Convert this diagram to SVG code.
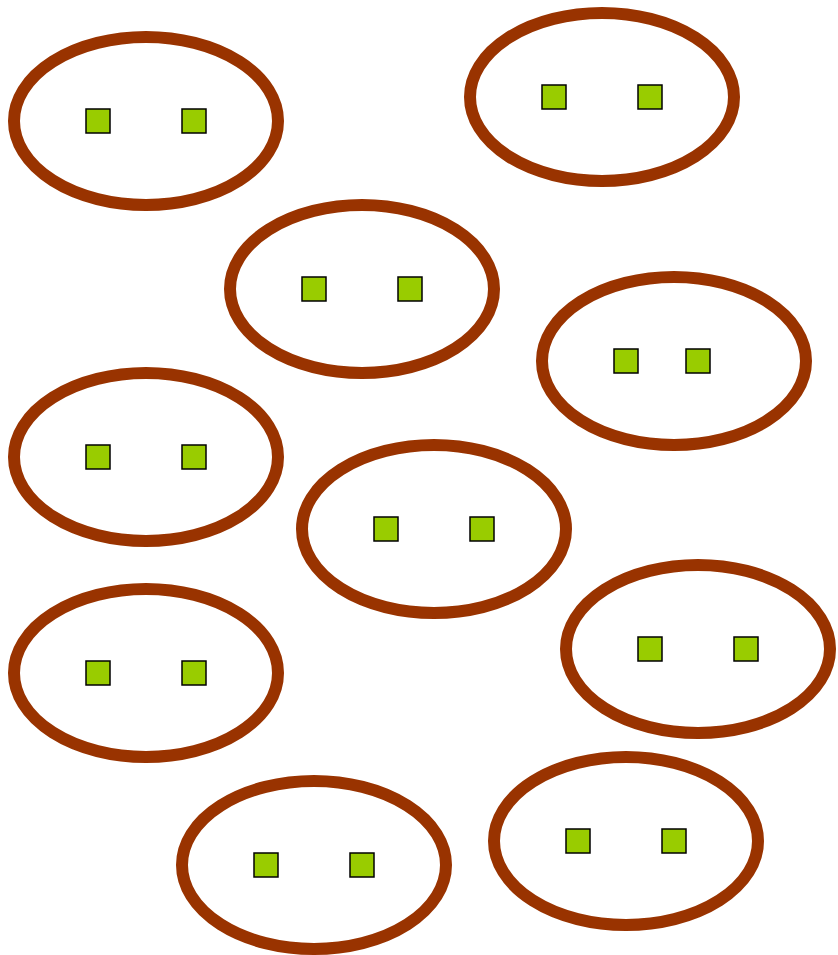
<svg xmlns="http://www.w3.org/2000/svg" width="838" height="955" viewBox="0 0 838 955">
<defs>
<style>
.e{fill:#ffffff;stroke:#993300;stroke-width:12}
.s{fill:#99cc00;stroke:#000000;stroke-width:1.5}
</style>
</defs>
<rect width="838" height="955" fill="#ffffff"/>
<g id="n1"><ellipse class="e" cx="146" cy="121" rx="132" ry="84"/><rect class="s" x="86" y="109" width="24" height="24"/><rect class="s" x="182" y="109" width="24" height="24"/></g>
<g id="n2"><ellipse class="e" cx="602" cy="97" rx="132" ry="84"/><rect class="s" x="542" y="85" width="24" height="24"/><rect class="s" x="638" y="85" width="24" height="24"/></g>
<g id="n3"><ellipse class="e" cx="362" cy="289" rx="132" ry="84"/><rect class="s" x="302" y="277" width="24" height="24"/><rect class="s" x="398" y="277" width="24" height="24"/></g>
<g id="n4"><ellipse class="e" cx="674" cy="361" rx="132" ry="84"/><rect class="s" x="614" y="349" width="24" height="24"/><rect class="s" x="686" y="349" width="24" height="24"/></g>
<g id="n5"><ellipse class="e" cx="146" cy="457" rx="132" ry="84"/><rect class="s" x="86" y="445" width="24" height="24"/><rect class="s" x="182" y="445" width="24" height="24"/></g>
<g id="n6"><ellipse class="e" cx="434" cy="529" rx="132" ry="84"/><rect class="s" x="374" y="517" width="24" height="24"/><rect class="s" x="470" y="517" width="24" height="24"/></g>
<g id="n7"><ellipse class="e" cx="698" cy="649" rx="132" ry="84"/><rect class="s" x="638" y="637" width="24" height="24"/><rect class="s" x="734" y="637" width="24" height="24"/></g>
<g id="n8"><ellipse class="e" cx="146" cy="673" rx="132" ry="84"/><rect class="s" x="86" y="661" width="24" height="24"/><rect class="s" x="182" y="661" width="24" height="24"/></g>
<g id="n9"><ellipse class="e" cx="314" cy="865" rx="132" ry="84"/><rect class="s" x="254" y="853" width="24" height="24"/><rect class="s" x="350" y="853" width="24" height="24"/></g>
<g id="n10"><ellipse class="e" cx="626" cy="841" rx="132" ry="84"/><rect class="s" x="566" y="829" width="24" height="24"/><rect class="s" x="662" y="829" width="24" height="24"/></g>
<g id="connectors"></g>
</svg>
